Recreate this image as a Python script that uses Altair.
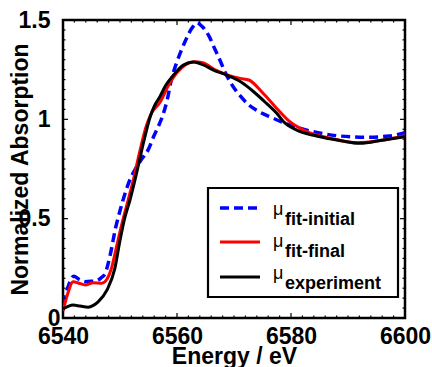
import altair as alt
import pandas as pd

# ---------------- data ----------------
e_exp = [6540.0, 6541.0, 6541.8, 6543.0, 6544.4, 6545.4, 6546.2, 6547.7, 6549.1, 6550.0,
         6550.8, 6551.75, 6552.9, 6554.1, 6555.3, 6556.0, 6557.0, 6558.0, 6559.4, 6561.1,
         6562.9, 6564.5, 6566.4, 6568.7, 6571.1, 6573.4, 6575.7, 6577.5, 6578.7, 6581.0,
         6584.5, 6588.6, 6592.1, 6596.2, 6600.0]
a_exp = [0.045, 0.060, 0.065, 0.060, 0.054, 0.065, 0.082, 0.140, 0.250, 0.390,
         0.500, 0.594, 0.728, 0.880, 1.013, 1.065, 1.114, 1.170, 1.223, 1.273,
         1.288, 1.275, 1.248, 1.223, 1.190, 1.140, 1.080, 1.030, 0.988, 0.946,
         0.916, 0.893, 0.879, 0.896, 0.913]

e_final = [6540.0, 6540.8, 6541.8, 6542.8, 6543.9, 6545.3, 6546.8, 6547.7, 6548.5, 6549.4,
           6550.3, 6551.3, 6552.3, 6553.4, 6554.6, 6555.5, 6557.0, 6558.5, 6560.0, 6561.5,
           6563.0, 6564.5, 6566.8, 6568.7, 6571.1, 6572.6, 6575.1, 6577.5, 6579.8, 6582.8,
           6586.8, 6591.5, 6595.6, 6600.0]
a_final = [0.035, 0.120, 0.183, 0.175, 0.166, 0.178, 0.175, 0.195, 0.250, 0.360,
           0.470, 0.580, 0.690, 0.830, 0.965, 1.030, 1.085, 1.170, 1.235, 1.275,
           1.290, 1.285, 1.248, 1.225, 1.206, 1.198, 1.131, 1.055, 0.988, 0.938,
           0.905, 0.882, 0.893, 0.918]

e_init = [6540.0, 6540.8, 6541.9, 6542.8, 6543.9, 6545.0, 6545.9, 6546.8, 6547.4, 6548.3,
          6549.2, 6550.0, 6550.9, 6551.8, 6552.6, 6553.8, 6555.0, 6556.0, 6556.7, 6557.5,
          6558.3, 6559.0, 6560.0, 6560.8, 6561.7, 6562.6, 6563.5, 6564.5, 6565.5, 6566.7,
          6567.5, 6568.4, 6569.3, 6570.2, 6571.1, 6572.5, 6574.0, 6576.3, 6579.8, 6583.9,
          6588.6, 6593.2, 6597.2, 6600.0]
a_init = [0.070, 0.150, 0.210, 0.195, 0.183, 0.185, 0.188, 0.205, 0.225, 0.320,
          0.450, 0.540, 0.628, 0.700, 0.745, 0.800, 0.850, 0.920, 0.963, 1.020,
          1.100, 1.198, 1.290, 1.350, 1.410, 1.458, 1.485, 1.465, 1.425, 1.350,
          1.300, 1.240, 1.190, 1.150, 1.118, 1.075, 1.045, 1.013, 0.971, 0.938,
          0.916, 0.910, 0.916, 0.933]

x_major = [6540, 6560, 6580, 6600]
x_minor = [v for v in range(6542, 6600, 2) if v not in x_major]
y_major = [0, 0.5, 1, 1.5]
y_minor = [round(i * 0.05, 2) for i in range(1, 30) if round(i * 0.05, 2) not in y_major]

legend_subs = ["fit-initial", "fit-final", "experiment"]
legend_colors = ["#0000FF", "#FF0000", "#000000"]

W, H = 342, 298
FONT = "Liberation Sans"

xs = alt.Scale(domain=[6540, 6600], nice=False, zero=False)
ys = alt.Scale(domain=[0, 1.5], nice=False, zero=False)

xaxis = alt.Axis(values=x_major, ticks=False, tickSize=0, domain=False, grid=False, format="d",
                 labelFont=FONT, labelFontSize=23, labelFontWeight="bold", labelColor="black",
                 labelPadding=7, labelFlush=False, labelOverlap=False,
                 title="Energy / eV", titleFont=FONT, titleFontSize=23, titleFontWeight="bold",
                 titleColor="black", titleBaseline="alphabetic", titleY=45)
yaxis = alt.Axis(values=y_major, ticks=False, tickSize=0, domain=False, grid=False, format="~g",
                 labelFont=FONT, labelFontSize=23, labelFontWeight="bold", labelColor="black",
                 labelPadding={"condition": {"test": "datum.value === 0", "value": 3}, "value": 13},
                 labelFlush=False, labelOverlap=False,
                 title="Normalized Absorption", titleFont=FONT, titleFontSize=23,
                 titleFontWeight="bold", titleColor="black", titleAngle=270,
                 titleBaseline="alphabetic", titleX=-36, titleY=H / 2, titleAlign="center")

X = alt.X("energy:Q", scale=xs, axis=xaxis)
Y = alt.Y("absorption:Q", scale=ys, axis=yaxis)


def curve(e, a, color, width, dash=None):
    df = pd.DataFrame({"energy": e, "absorption": a})
    kw = dict(color=color, strokeWidth=width, interpolate="monotone", clip=True)
    if dash:
        kw["strokeDash"] = dash
    return alt.Chart(df).mark_line(**kw).encode(x=X, y=Y)


layers = [
    curve(e_init, a_init, legend_colors[0], 3.5, [9, 5]),
    curve(e_final, a_final, legend_colors[1], 3),
    curve(e_exp, a_exp, legend_colors[2], 3),
]

# inward ticks on all four sides
xmaj = pd.DataFrame({"energy": x_major})
xmin = pd.DataFrame({"energy": x_minor})
ymaj = pd.DataFrame({"absorption": y_major})
ymin = pd.DataFrame({"absorption": y_minor})
for df, ln in [(xmaj, 5), (xmin, 2.5)]:
    layers.append(alt.Chart(df).mark_rule(color="black", strokeWidth=1.2).encode(
        x=X, y=alt.value(H), y2=alt.value(H - ln)))
    layers.append(alt.Chart(df).mark_rule(color="black", strokeWidth=1.2).encode(
        x=X, y=alt.value(0), y2=alt.value(ln)))
for df, ln in [(ymaj, 5), (ymin, 2.5)]:
    layers.append(alt.Chart(df).mark_rule(color="black", strokeWidth=1.2).encode(
        y=Y, x=alt.value(0), x2=alt.value(ln)))
    layers.append(alt.Chart(df).mark_rule(color="black", strokeWidth=1.2).encode(
        y=Y, x=alt.value(W), x2=alt.value(W - ln)))

# legend drawn by hand (subscripted labels)
one = pd.DataFrame({"k": [0]})
layers.append(alt.Chart(one).mark_rect(fill="white", stroke="black", strokeWidth=2.2).encode(
    x=alt.value(145), x2=alt.value(335), y=alt.value(168), y2=alt.value(277)))
line_y = [188, 222, 257]
sub_y = [205, 237, 269]
for i, sub in enumerate(legend_subs):
    kw = dict(color=legend_colors[i], strokeWidth=3.5 if i == 0 else 3)
    if i == 0:
        kw["strokeDash"] = [9, 5]
    layers.append(alt.Chart(one).mark_rule(**kw).encode(
        x=alt.value(157), x2=alt.value(197), y=alt.value(line_y[i])))
    layers.append(alt.Chart(one).mark_text(text="μ", font=FONT, fontSize=18, align="left",
                                           baseline="alphabetic", color="black").encode(
        x=alt.value(210), y=alt.value(sub_y[i] - 10)))
    layers.append(alt.Chart(one).mark_text(text=sub, font=FONT, fontSize=18, fontWeight="bold",
                                           align="left", baseline="alphabetic",
                                           color="black").encode(
        x=alt.value(222), y=alt.value(sub_y[i])))

chart = alt.layer(*layers).properties(
    width=W, height=H,
    autosize=alt.AutoSizeParams(type="none"),
    padding={"left": 63, "top": 20, "right": 27, "bottom": 49},
    background="white",
).configure_view(stroke="black", strokeWidth=2.5)

chart.save("out.html", embed_options={"renderer": "svg", "actions": False})
